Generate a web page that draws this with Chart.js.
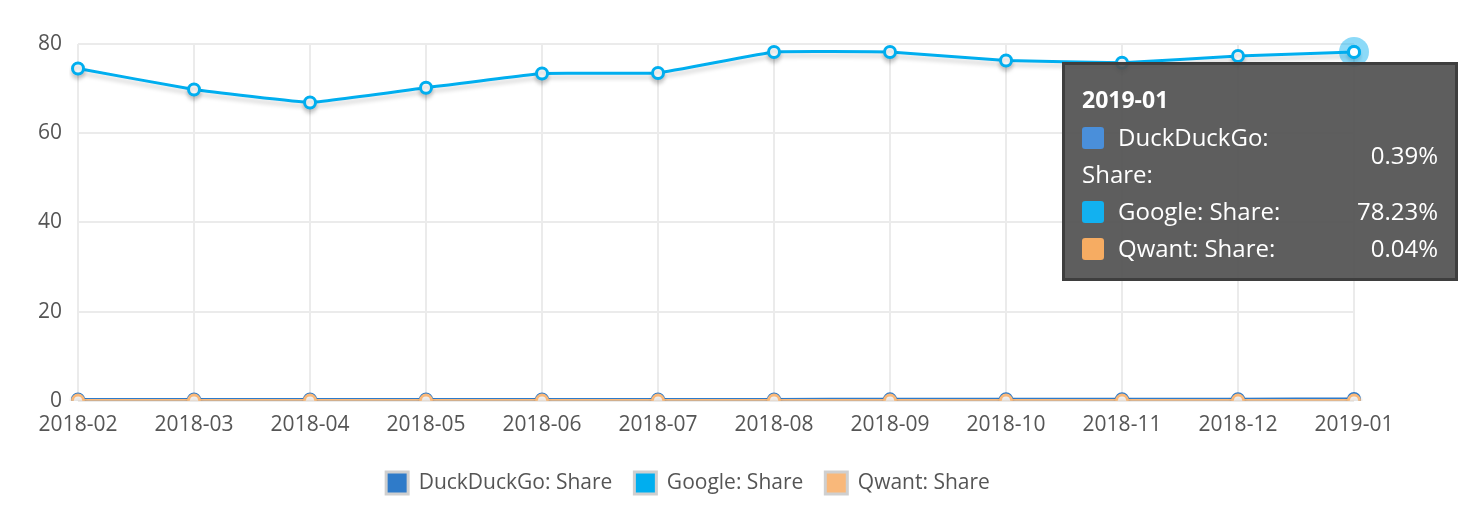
<!DOCTYPE html>
<html>
<head>
<meta charset="utf-8">
<script src="https://cdn.jsdelivr.net/npm/chart.js@4/dist/chart.umd.min.js"></script>
<style>
  body { margin: 0; background: #fff; font-family: "Open Sans", sans-serif; }
  #wrap { position: relative; width: 1458px; height: 510px; }
  #tip {
    position: absolute; background: rgba(80,80,80,0.92); color: #fff;
    border: 3px solid #3e3e3e; width: 356px; padding: 16px 17px 12px 17px;
    font-size: 24px; line-height: 37px; display: none;
  }
  #tip .title { font-weight: bold; font-size: 23px; }
  #tip table { border-collapse: collapse; width: 100%; }
  #tip td { padding: 0; vertical-align: middle; }
  #tip td.l { width: 215px; }
  #tip td.v { text-align: right; white-space: nowrap; }
  #tip .sw { display: inline-block; width: 22px; height: 22px; border-radius: 3px; margin-right: 14px; vertical-align: -3px; }
</style>
</head>
<body>
<div id="wrap">
  <canvas id="lineChart" width="1458" height="510"></canvas>
  <div id="tip"></div>
</div>
<script>
var meses = ['2018-02', '2018-03', '2018-04', '2018-05', '2018-06', '2018-07',
             '2018-08', '2018-09', '2018-10', '2018-11', '2018-12', '2019-01'];
var duckduckgo = [0.28, 0.29, 0.29, 0.30, 0.30, 0.31, 0.31, 0.33, 0.34, 0.35, 0.37, 0.39];
var google = [74.5, 69.8, 66.9, 70.2, 73.4, 73.5, 78.2, 78.2, 76.3, 75.8, 77.3, 78.23];
var qwant = [0.04, 0.04, 0.04, 0.04, 0.04, 0.04, 0.04, 0.04, 0.04, 0.04, 0.04, 0.04];
var ejeY = [0, 20, 40, 60, 80];

var colores = {
    duck: '#2f7bc9',
    google: '#00aeef',
    qwant: '#f9b87a'
};
var swatch = ['#4a8fda', '#12b1f0', '#f6ac62'];

var sombra = {
    id: 'sombra',
    beforeDatasetsDraw: function (chart) {
        var c = chart.ctx;
        c.save();
        c.shadowColor = 'rgba(0,0,0,0.18)';
        c.shadowBlur = 4;
        c.shadowOffsetY = 4;
    },
    afterDatasetsDraw: function (chart) { chart.ctx.restore(); }
};

function serie(label, data, color, orden) {
    return {
        label: label, data: data, borderColor: color, backgroundColor: color, order: orden,
        borderWidth: 3, pointRadius: 5.5, pointBorderWidth: 3,
        pointBackgroundColor: '#fff', pointBorderColor: color,
        pointHoverRadius: 6, pointHoverBorderWidth: 3, pointHoverBackgroundColor: '#fff',
        tension: 0.08, fill: false
    };
}

function tooltipExterno(context) {
    var tip = document.getElementById('tip');
    var model = context.tooltip;
    if (model.opacity === 0) { tip.style.display = 'none'; return; }
    var html = '<div class="title">' + model.title[0] + '</div><table>';
    model.dataPoints.forEach(function (p) {
        html += '<tr><td class="l"><span class="sw" style="background:' + swatch[p.datasetIndex] + '"></span>' +
            p.dataset.label + ':</td><td class="v">' + p.raw.toFixed(2) + '%</td></tr>';
    });
    html += '</table>';
    tip.innerHTML = html;
    tip.style.display = 'block';
    var pt = context.chart.getDatasetMeta(1).data[11];
    tip.style.left = (pt.x - 292) + 'px';
    tip.style.top = (pt.y + 10) + 'px';
}

var ctx = document.getElementById('lineChart').getContext('2d');
var lineChart = new Chart(ctx, {
    type: 'line',
    data: {
        labels: meses,
        datasets: [
            serie('DuckDuckGo: Share', duckduckgo, colores.duck, 1),
            serie('Google: Share', google, colores.google, 0),
            serie('Qwant: Share', qwant, colores.qwant, -1)
        ]
    },
    plugins: [sombra],
    options: {
        responsive: false,
        animation: false,
        layout: { padding: { left: 22, right: 104, top: 44, bottom: 6 } },
        interaction: { mode: 'index', intersect: false },
        scales: {
            x: {
                offset: false,
                grid: { color: '#ebebeb', lineWidth: 2, drawTicks: false },
                border: { display: false },
                ticks: { color: '#555', font: { family: 'Open Sans', size: 21 }, padding: 12, maxRotation: 0 }
            },
            y: {
                min: 0, max: 80,
                afterBuildTicks: function (axis) { axis.ticks = ejeY.map(function (v) { return { value: v }; }); },
                grid: { color: '#ebebeb', lineWidth: 2, drawTicks: false },
                border: { display: false },
                ticks: { color: '#555', font: { family: 'Open Sans', size: 21 }, padding: 16 }
            }
        },
        plugins: {
            legend: {
                position: 'bottom',
                labels: {
                    color: '#555', font: { family: 'Open Sans', size: 21 },
                    boxWidth: 22, boxHeight: 22, padding: 22,
                    generateLabels: function (chart) {
                        return chart.data.datasets.map(function (d, i) {
                            return { text: d.label, fillStyle: d.borderColor, strokeStyle: '#cfcfcf',
                                     lineWidth: 3, datasetIndex: i, fontColor: '#555' };
                        });
                    }
                }
            },
            tooltip: { enabled: false, external: tooltipExterno }
        }
    }
});

// Halo sobre el punto activo de Google
var halo = {
    id: 'halo',
    afterDatasetsDraw: function (chart) {
        var pt = chart.getDatasetMeta(1).data[11];
        var c = chart.ctx;
        c.save();
        c.fillStyle = 'rgba(0,174,239,0.45)';
        c.beginPath(); c.arc(pt.x, pt.y, 15, 0, Math.PI * 2); c.fill();
        c.fillStyle = '#fff'; c.strokeStyle = colores.google; c.lineWidth = 3;
        c.beginPath(); c.arc(pt.x, pt.y, 5.5, 0, Math.PI * 2); c.fill(); c.stroke();
        c.restore();
    }
};
lineChart.config.plugins.push(halo);

var activos = [0, 1, 2].map(function (i) { return { datasetIndex: i, index: 11 }; });
lineChart.tooltip.setActiveElements(activos, { x: 0, y: 0 });
lineChart.update();
</script>
</body>
</html>
